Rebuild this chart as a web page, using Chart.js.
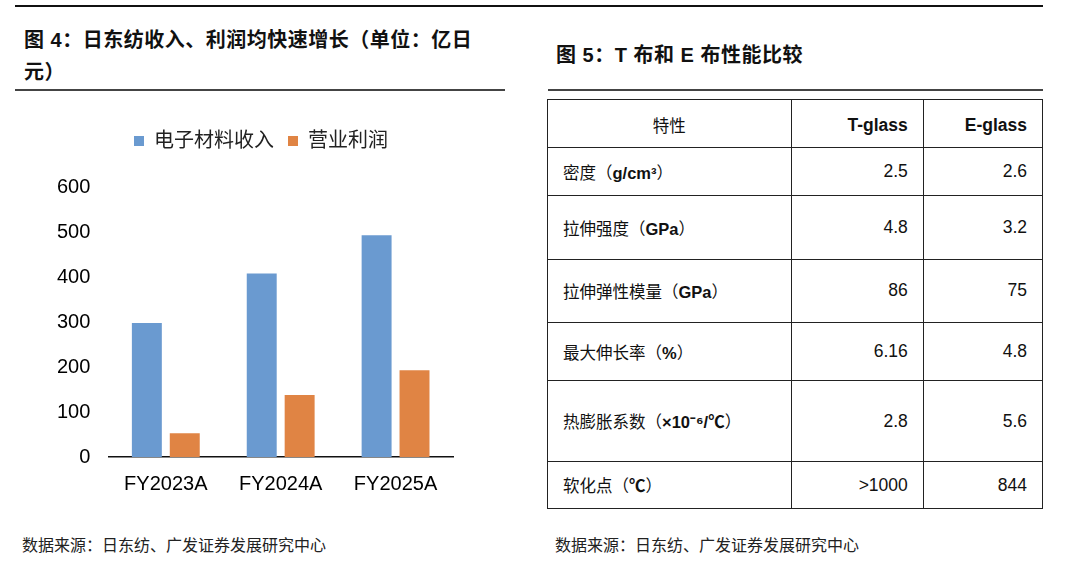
<!DOCTYPE html>
<html>
<head>
<meta charset="utf-8">
<script src="https://cdn.jsdelivr.net/npm/chart.js@4.4.1/dist/chart.umd.min.js"></script>
<style>
  html, body { margin:0; padding:0; background:#fff; }
  body { width:1070px; height:562px; position:relative; overflow:hidden;
         font-family:"Liberation Sans","Noto Sans CJK SC",sans-serif; color:#000; }
  .hr { position:absolute; background:#222; }
  .title { position:absolute; font-size:20px; font-weight:bold; line-height:32px; letter-spacing:0.5px; color:#111; white-space:nowrap; }
  .src { position:absolute; font-size:16px; line-height:20px; color:#222; white-space:nowrap; }
  #chartBox { position:absolute; left:0; top:100px; width:520px; height:420px; }
  table { position:absolute; left:547px; top:99px; width:496px; border-collapse:collapse; table-layout:fixed; }
  td { border:1.6px solid #222; padding:0 15px 0 15px; vertical-align:middle; font-size:17.5px; color:#111; }
  td.num { text-align:right; }
  td.lab { text-align:left; }
  .cjk { font-size:16.5px; }
  .unit { font-weight:bold; font-size:16.5px; }
</style>
</head>
<body>
<div class="hr" style="left:15px; top:5px; width:1028px; height:1.6px; background:#111;"></div>
<div class="title" style="left:24px; top:24px;">图 4：日东纺收入、利润均快速增长（单位：亿日<br>元）</div>
<div class="hr" style="left:15px; top:89px; width:490px; height:2px; background:#444;"></div>

<div class="title" style="left:556px; top:39px;">图 5：T 布和 E 布性能比较</div>
<div class="hr" style="left:548px; top:89px; width:495px; height:2px; background:#444;"></div>

<div id="chartBox"><canvas id="c"></canvas></div>

<table id="tbl"></table>

<div class="src" style="left:22px; top:536px;">数据来源：日东纺、广发证券发展研究中心</div>
<div class="src" style="left:555px; top:536px;">数据来源：日东纺、广发证券发展研究中心</div>

<script>
// ---- Chart data ----
const categories = ["FY2023A", "FY2024A", "FY2025A"];
const seriesNames = ["电子材料收入", "营业利润"];
const revenue = [298, 408, 493];
const profit = [53, 138, 193];
const yTicks = [0, 100, 200, 300, 400, 500, 600];

// ---- Table data ----
const tableHeaders = ["特性", "T-glass", "E-glass"];
const propNames = ["密度", "拉伸强度", "拉伸弹性模量", "最大伸长率", "热膨胀系数", "软化点"];
const propUnits = ["g/cm³", "GPa", "GPa", "%", "×10⁻⁶/℃", "℃"];
const tGlass = ["2.5", "4.8", "86", "6.16", "2.8", ">1000"];
const eGlass = ["2.6", "3.2", "75", "4.8", "5.6", "844"];
const rowHeights = [48, 48.4, 63.3, 63, 58.7, 80.3, 47.7];
const colWidths = [243.5, 132.3, 119.2];

// build table
(function(){
  const tbl = document.getElementById('tbl');
  const cg = document.createElement('colgroup');
  colWidths.forEach(w => { const c = document.createElement('col'); c.style.width = w + 'px'; cg.appendChild(c); });
  tbl.appendChild(cg);
  const hr = document.createElement('tr');
  hr.style.height = rowHeights[0] + 'px';
  tableHeaders.forEach((h, i) => {
    const td = document.createElement('td');
    td.textContent = h;
    td.style.paddingTop = '3px';
    if (i === 0) { td.style.textAlign = 'center'; td.style.fontSize = '16.5px'; }
    else { td.className = 'num'; td.style.fontWeight = 'bold'; }
    hr.appendChild(td);
  });
  tbl.appendChild(hr);
  propNames.forEach((p, r) => {
    const tr = document.createElement('tr');
    tr.style.height = rowHeights[r + 1] + 'px';
    const a = document.createElement('td');
    a.className = 'lab';
    a.innerHTML = '<span class="cjk">' + p + '（</span><span class="unit">' + propUnits[r] + '</span><span class="cjk">）</span>';
    const b = document.createElement('td'); b.className = 'num'; b.textContent = tGlass[r];
    const c = document.createElement('td'); c.className = 'num'; c.textContent = eGlass[r];
    tr.appendChild(a); tr.appendChild(b); tr.appendChild(c);
    tbl.appendChild(tr);
  });
})();

const FONT = '"Liberation Sans", "Noto Sans CJK SC", sans-serif';

const legendSpacer = {
  id: 'legendSpacer',
  beforeInit(chart) {
    const origFit = chart.legend.fit;
    chart.legend.fit = function () {
      origFit.bind(chart.legend)();
      this.height += 26;
    };
  },
  afterLayout(chart) {
    chart.legend.left += 15;
    chart.legend.right += 15;
  }
};

new Chart(document.getElementById('c'), {
  type: 'bar',
  data: {
    labels: categories,
    datasets: [
      { label: seriesNames[0], data: revenue, backgroundColor: '#6A9AD0', borderWidth: 0,
        categoryPercentage: 0.66, barPercentage: 0.79 },
      { label: seriesNames[1], data: profit, backgroundColor: '#E08444', borderWidth: 0,
        categoryPercentage: 0.66, barPercentage: 0.79 }
    ]
  },
  options: {
    responsive: true,
    maintainAspectRatio: false,
    animation: false,
    layout: { padding: { left: 39, right: 67, top: 17, bottom: 9 } },
    plugins: {
      legend: {
        display: true,
        position: 'top',
        labels: { boxWidth: 10, boxHeight: 10, padding: 14, color: '#222',
                  font: { family: FONT, size: 20 } }
      },
      tooltip: { enabled: false }
    },
    scales: {
      x: {
        grid: { display: false, drawTicks: false },
        border: { display: true, color: '#111', width: 1.5 },
        ticks: { color: '#000', padding: 15, font: { family: FONT, size: 20 } }
      },
      y: {
        min: 0, max: 600,
        afterBuildTicks(scale) { scale.ticks = yTicks.map(v => ({ value: v })); },
        grid: { display: false, drawTicks: false },
        border: { display: false },
        ticks: { color: '#000', padding: 18, font: { family: FONT, size: 20 } }
      }
    }
  },
  plugins: [legendSpacer]
});
</script>
</body>
</html>
